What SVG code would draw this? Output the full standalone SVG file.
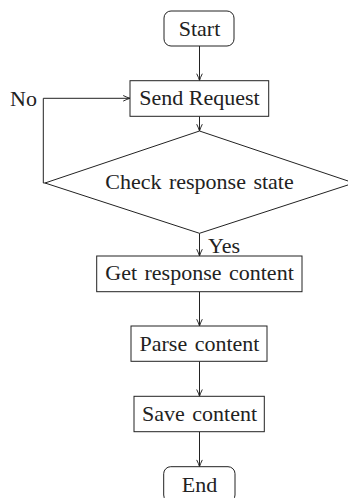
<svg xmlns="http://www.w3.org/2000/svg" width="348" height="498" viewBox="0 0 348 498">
<style>
.n{fill:#fff;stroke:#222;stroke-width:1}
.t{font-family:"Liberation Serif","Times New Roman",serif;font-size:22px;fill:#222;text-anchor:middle}
.l{font-family:"Liberation Serif","Times New Roman",serif;font-size:22px;fill:#222}
.c{fill:none;stroke:#222;stroke-width:1;marker-end:url(#a)}
</style>
<defs>
<marker id="a" viewBox="0 0 10 10" refX="9.5" refY="5" markerWidth="8" markerHeight="8" markerUnits="userSpaceOnUse" orient="auto">
<path d="M1,1.5 Q6,4 9.5,5 Q6,6 1,8.5" fill="none" stroke="#222" stroke-width="1.2"/>
</marker>
</defs>
<rect width="348" height="498" fill="#fff"/>
<g id="connectors">
<path class="c" d="M199.5,46 V80.5"/>
<path class="c" d="M199.5,116.3 V131"/>
<path class="c" d="M199.5,233.3 V256"/>
<path class="c" d="M199.5,291.7 V326"/>
<path class="c" d="M199.5,361.3 V396.3"/>
<path class="c" d="M199.5,431.7 V466.7"/>
<path class="c" d="M45,183 H43.3 V98.3 H130"/>
<text class="l" x="10" y="106">No</text>
<text class="l" x="208" y="252.7">Yes</text>
</g>
<g id="start">
<rect class="n" x="164" y="11" width="70" height="35" rx="7"/>
<text class="t" x="199.5" y="36">Start</text>
</g>
<g id="send">
<rect class="n" x="130" y="80.7" width="138.7" height="35.6"/>
<text class="t" x="199.5" y="105">Send Request</text>
</g>
<g id="check">
<polygon class="n" points="199.5,131 354,183 199.5,233.3 45,183"/>
<text class="t" x="199.5" y="188.5" word-spacing="2">Check response state</text>
</g>
<g id="get">
<rect class="n" x="96.7" y="256" width="205.3" height="35.7"/>
<text class="t" x="199.5" y="279.5" word-spacing="2">Get response content</text>
</g>
<g id="parse">
<rect class="n" x="131" y="326" width="136" height="35.3"/>
<text class="t" x="199.5" y="350.7" word-spacing="2">Parse content</text>
</g>
<g id="save">
<rect class="n" x="134" y="396.3" width="130.3" height="35.4"/>
<text class="t" x="199.5" y="420.7" word-spacing="2">Save content</text>
</g>
<g id="end">
<rect class="n" x="163.7" y="466.7" width="71.3" height="35.3" rx="7"/>
<text class="t" x="199.5" y="492">End</text>
</g>
</svg>
